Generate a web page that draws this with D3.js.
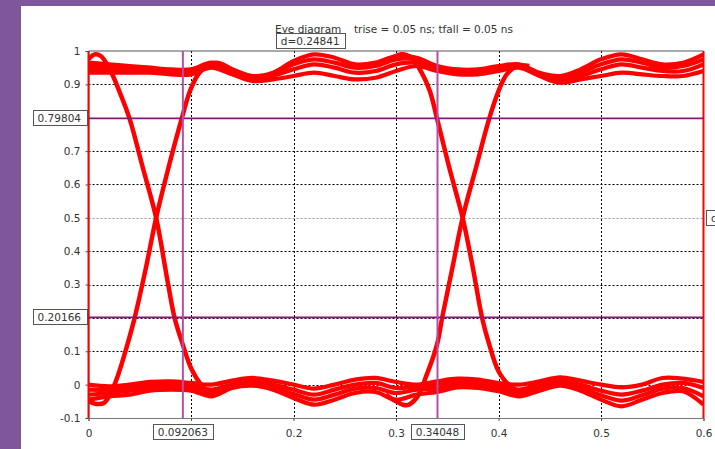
<!DOCTYPE html>
<meta charset="utf-8">
<head>
  <title>Eye diagram</title>
  <script src="https://d3js.org/d3.v7.min.js"></script>
  <style>
    body { margin: 0; background: #7f559b; }
    text { font-family: "DejaVu Sans", sans-serif; font-size: 10.5px; fill: #333; }
  </style>
</head>
<body>
<div id="display"></div>
<script>

// upper (logic 1) band strands, sampled every 0.02 ns from 0 to 0.6
var tGrid = [0, 0.02, 0.04, 0.06, 0.08, 0.10, 0.12, 0.14, 0.16, 0.18, 0.20, 0.22, 0.24, 0.26, 0.28, 0.30,
             0.32, 0.34, 0.36, 0.38, 0.40, 0.42, 0.44, 0.46, 0.48, 0.50, 0.52, 0.54, 0.56, 0.58, 0.60];

var highA = [0.965, 0.96, 0.955, 0.95, 0.945, 0.945, 0.965, 0.945, 0.925, 0.935, 0.97, 0.99, 0.98, 0.96, 0.965, 0.985,
             0.98, 0.955, 0.945, 0.945, 0.955, 0.96, 0.935, 0.925, 0.945, 0.975, 0.99, 0.975, 0.96, 0.965, 0.99];
var highB = [0.955, 0.955, 0.95, 0.945, 0.94, 0.94, 0.96, 0.94, 0.92, 0.93, 0.96, 0.975, 0.965, 0.95, 0.955, 0.975,
             0.975, 0.95, 0.94, 0.94, 0.95, 0.955, 0.93, 0.92, 0.935, 0.96, 0.975, 0.965, 0.95, 0.955, 0.975];
var highC = [0.945, 0.945, 0.945, 0.94, 0.935, 0.935, 0.955, 0.935, 0.915, 0.925, 0.945, 0.96, 0.95, 0.935, 0.94, 0.96,
             0.965, 0.945, 0.935, 0.935, 0.945, 0.955, 0.93, 0.915, 0.925, 0.945, 0.96, 0.95, 0.94, 0.94, 0.96];
var highD = [0.935, 0.935, 0.935, 0.935, 0.93, 0.93, 0.95, 0.93, 0.91, 0.915, 0.925, 0.935, 0.925, 0.915, 0.92, 0.94,
             0.955, 0.94, 0.93, 0.93, 0.94, 0.95, 0.925, 0.905, 0.915, 0.925, 0.935, 0.93, 0.925, 0.925, 0.94];

// lower (logic 0) band strands
var lowA = [0.0, -0.005, 0.0, 0.008, 0.01, 0.005, 0.0, 0.012, 0.02, 0.012, 0.0, -0.012, 0.0, 0.015, 0.02, 0.008,
            0.0, 0.01, 0.018, 0.015, 0.005, 0.0, 0.01, 0.022, 0.012, 0.0, -0.008, 0.0, 0.02, 0.018, 0.008];
var lowB = [-0.015, -0.015, -0.01, -0.003, 0.0, -0.005, -0.015, 0.0, 0.01, 0.0, -0.015, -0.03, -0.015, 0.0, 0.005, -0.01,
            -0.005, 0.0, 0.008, 0.005, -0.005, -0.015, 0.0, 0.012, 0.0, -0.018, -0.03, -0.018, 0.0, 0.005, -0.01];
var lowC = [-0.03, -0.025, -0.018, -0.01, -0.008, -0.012, -0.025, -0.005, 0.003, -0.008, -0.028, -0.045, -0.03, -0.012, -0.01, -0.025,
            -0.015, -0.012, 0.0, -0.003, -0.012, -0.025, -0.01, 0.003, -0.01, -0.032, -0.048, -0.032, -0.012, -0.01, -0.035];
var lowD = [-0.045, -0.035, -0.03, -0.018, -0.015, -0.018, -0.035, -0.01, -0.003, -0.015, -0.04, -0.06, -0.045, -0.025, -0.022, -0.045,
            -0.03, -0.022, -0.008, -0.01, -0.02, -0.035, -0.018, -0.003, -0.018, -0.045, -0.065, -0.045, -0.025, -0.02, -0.06];

// transitions [t, v]
var fall1 = [[0, 0.975], [0.006, 0.99], [0.012, 0.985], [0.02, 0.95], [0.03, 0.88], [0.04, 0.798], [0.053, 0.65],
             [0.066, 0.5], [0.076, 0.33], [0.084, 0.2], [0.092, 0.12], [0.1, 0.05], [0.11, 0.0], [0.122, -0.03],
             [0.135, -0.01], [0.15, 0.0]];
var rise1 = [[0, -0.05], [0.008, -0.058], [0.015, -0.055], [0.021, -0.03], [0.029, 0.03], [0.037, 0.11], [0.045, 0.2],
             [0.056, 0.35], [0.066, 0.5], [0.078, 0.65], [0.091, 0.798], [0.099, 0.88], [0.107, 0.93], [0.115, 0.955],
             [0.125, 0.965], [0.14, 0.945]];
var fall2 = [[0.29, 0.965], [0.305, 0.99], [0.315, 0.98], [0.325, 0.935], [0.333, 0.88], [0.34, 0.798], [0.352, 0.65],
             [0.365, 0.5], [0.375, 0.35], [0.384, 0.2], [0.391, 0.12], [0.4, 0.04], [0.41, 0.0], [0.422, -0.02],
             [0.435, -0.005]];
var rise2 = [[0.29, -0.03], [0.3, -0.05], [0.31, -0.062], [0.32, -0.04], [0.33, 0.03], [0.34, 0.12], [0.345, 0.2],
             [0.355, 0.35], [0.365, 0.5], [0.378, 0.65], [0.391, 0.798], [0.4, 0.88], [0.408, 0.93], [0.418, 0.955],
             [0.43, 0.955]];

// axes and cursors
var xTicks = [0, 0.1, 0.2, 0.3, 0.4, 0.5, 0.6];
var yTicks = [-0.1, 0, 0.1, 0.2, 0.3, 0.4, 0.5, 0.6, 0.7, 0.8, 0.9, 1];
var xCursors = [0.092063, 0.34048];
var yCursors = [0.79804, 0.20166];
var xCursorLabels = ["0.092063", "0.34048"];
var yCursorLabels = ["0.79804", "0.20166"];
var xDiffLabel = "d=0.24841";
var yDiffLabel = "d=0.59638";

var W = 715, H = 449;

var svg = d3.select("#display").append("svg")
    .attr("width", W).attr("height", H)
    .style("display", "block");

svg.append("rect").attr("width", W).attr("height", H).attr("fill", "#7f559b");
svg.append("rect").attr("x", 21).attr("y", 6).attr("width", W - 21).attr("height", H - 6).attr("fill", "#fff");

var x = d3.scaleLinear().domain([0, 0.6]).range([88.5, 703.5]);
var y = d3.scaleLinear().domain([-0.1, 1]).range([418, 51]);

// title
svg.append("text").attr("x", 275).attr("y", 33).text("Eye diagram");
svg.append("text").attr("x", 354).attr("y", 33).text("trise = 0.05 ns; tfall = 0.05 ns");

// grid
var grid = svg.append("g");
grid.selectAll("line.gx")
  .data(xTicks.slice(1, -1))
  .enter().append("line")
    .attr("x1", function(d) { return Math.round(x(d)) + 0.5; })
    .attr("x2", function(d) { return Math.round(x(d)) + 0.5; })
    .attr("y1", y(1)).attr("y2", y(-0.1))
    .attr("stroke", "#000").attr("stroke-dasharray", "2,2");
grid.selectAll("line.gy")
  .data(yTicks.slice(1, -1))
  .enter().append("line")
    .attr("x1", x(0)).attr("x2", x(0.6))
    .attr("y1", function(d) { return Math.round(y(d)) + 0.5; })
    .attr("y2", function(d) { return Math.round(y(d)) + 0.5; })
    .attr("stroke", function(d) { return d === 0.5 ? "#9a9a9a" : "#000"; })
    .attr("stroke-dasharray", "2,2");

// frame
svg.append("line").attr("x1", x(0)).attr("x2", x(0.6)).attr("y1", y(1)).attr("y2", y(1))
    .attr("stroke", "#555");

// axes
var xAxis = svg.append("g")
    .attr("transform", "translate(0," + y(-0.1) + ")")
    .call(d3.axisBottom(x).tickValues(xTicks).tickSize(3).tickPadding(9)
      .tickFormat(function(d) { return String(+d.toFixed(1)); }));
var yAxis = svg.append("g")
    .attr("transform", "translate(" + x(0) + ",0)")
    .call(d3.axisLeft(y).tickValues(yTicks).tickSize(3).tickPadding(5)
      .tickFormat(function(d) { return String(+d.toFixed(1)); }));
[xAxis, yAxis].forEach(function(a) {
  a.selectAll("text").style("font-family", "DejaVu Sans").style("font-size", "10.5px").attr("fill", "#333");
  a.selectAll("line").attr("stroke", "#555");
  a.select(".domain").attr("stroke", "#777");
});

// traces
svg.append("clipPath").attr("id", "plot")
  .append("rect").attr("x", x(0)).attr("y", y(1) - 2).attr("width", x(0.6) - x(0)).attr("height", y(-0.1) - y(1) + 2);

var line = d3.line()
    .x(function(d) { return x(d[0]); })
    .y(function(d) { return y(d[1]); })
    .curve(d3.curveCatmullRom.alpha(0.5));

var bands = [highA, highB, highC, highD, lowA, lowB, lowC, lowD].map(function(vals) {
  return tGrid.map(function(t, i) { return [t, vals[i]]; });
});

var traces = svg.append("g").attr("clip-path", "url(#plot)");
traces.selectAll("path.band")
  .data(bands)
  .enter().append("path")
    .attr("d", line)
    .attr("fill", "none").attr("stroke", "#ff0000").attr("stroke-width", 4.2);
traces.selectAll("path.edge")
  .data([fall1, rise1, fall2, rise2])
  .enter().append("path")
    .attr("d", line)
    .attr("fill", "none").attr("stroke", "#ff0000").attr("stroke-width", 4.5);

// red trace edges at both ends
svg.selectAll("line.edgeline")
  .data([0, 0.6])
  .enter().append("line")
    .attr("x1", function(d) { return x(d); }).attr("x2", function(d) { return x(d); })
    .attr("y1", y(1)).attr("y2", y(-0.1))
    .attr("stroke", "#ff0000").attr("stroke-width", 2);

// cursors
svg.selectAll("line.ycur")
  .data(yCursors)
  .enter().append("line")
    .attr("x1", x(0)).attr("x2", x(0.6))
    .attr("y1", function(d) { return y(d); }).attr("y2", function(d) { return y(d); })
    .attr("stroke", "#8c1470").attr("stroke-width", 1.6);
svg.selectAll("line.xcur")
  .data(xCursors)
  .enter().append("line")
    .attr("x1", function(d) { return x(d); }).attr("x2", function(d) { return x(d); })
    .attr("y1", y(1)).attr("y2", y(-0.1))
    .attr("stroke", "#b050a8").attr("stroke-width", 2);

function boxLabel(txt, cx, cy, anchor) {
  var g = svg.append("g");
  var r = g.append("rect").attr("fill", "#fff").attr("stroke", "#555");
  var t = g.append("text").attr("x", cx).attr("y", cy + 4).attr("text-anchor", anchor).text(txt);
  var b = t.node().getBBox();
  r.attr("x", Math.round(b.x - 5) + 0.5).attr("y", Math.round(cy - 8) + 0.5)
   .attr("width", Math.round(b.width + 10)).attr("height", 15);
}

yCursors.forEach(function(v, i) { boxLabel(yCursorLabels[i], 81, y(v), "end"); });
xCursors.forEach(function(v, i) { boxLabel(xCursorLabels[i], x(v), 432, "middle"); });
boxLabel(xDiffLabel, (x(xCursors[0]) + x(xCursors[1])) / 2, 41, "middle");
boxLabel(yDiffLabel, 711, y((yCursors[0] + yCursors[1]) / 2), "start");

</script>
</body>
